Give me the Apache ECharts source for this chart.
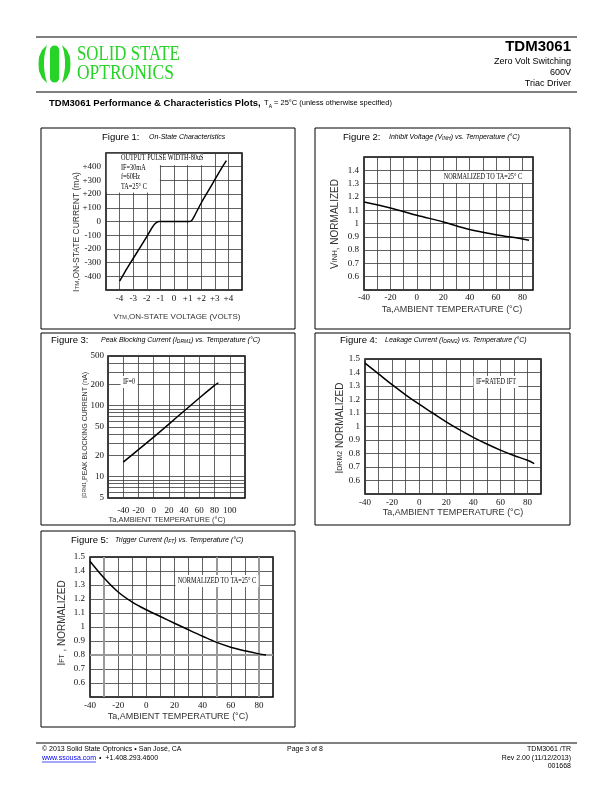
<!DOCTYPE html>
<html><head><meta charset="utf-8">
<script src="https://cdn.jsdelivr.net/npm/echarts@6/dist/echarts.min.js"></script>
<style>html,body{margin:0;padding:0;background:#fff}#c{width:612px;height:792px}</style>
</head><body><div id="c"></div>
<script>
// ---------- DATA ----------
// Figure 1: On-state characteristics
const fig1Volt = [-4, -3.5, -3, -2.5, -2, -1.7, -1.5, -1.3, -1.1, 0, 1.1, 1.3, 1.5, 2, 2.5, 3, 3.5, 3.85];
const fig1Curr = [-435, -350, -270, -190, -110, -60, -28, -8, 0, 0, 0, 8, 40, 135, 220, 305, 390, 445];
// Figure 2: Inhibit voltage vs temperature
const fig2Temp = [-40, -20, 0, 20, 40, 60, 80, 85];
const fig2Vinh = [1.162, 1.117, 1.062, 1.012, 0.955, 0.916, 0.884, 0.874];
// Figure 3: Peak blocking current vs temperature (nA)
const fig3Temp = [-40, -20, 0, 20, 40, 60, 80, 85];
const fig3Idrm = [16, 24, 36, 55, 84, 128, 193, 210];
const fig3GridVals = [5, 6, 7, 8, 9, 10, 20, 30, 40, 50, 60, 70, 80, 90, 100, 200, 300, 400, 500];
const fig3LabelVals = [5, 10, 20, 50, 100, 200, 500];
// Figure 4: Leakage current vs temperature
const fig4Temp = [-40, -30, -20, -10, 0, 10, 20, 30, 40, 50, 60, 70, 80, 85];
const fig4Idrm = [1.47, 1.39, 1.31, 1.235, 1.165, 1.10, 1.035, 0.975, 0.92, 0.87, 0.825, 0.785, 0.75, 0.725];
// Figure 5: Trigger current vs temperature
const fig5Temp = [-40, -30, -20, -10, 0, 10, 20, 30, 40, 50, 60, 70, 80, 85];
const fig5Ift = [1.47, 1.35, 1.25, 1.178, 1.123, 1.075, 1.027, 0.98, 0.934, 0.89, 0.856, 0.83, 0.808, 0.80];

// ---------- HELPERS ----------
const zip = (a, b) => a.map((v, i) => [v, b[i]]);
const SERIF = 'Liberation Serif';
const SANS = 'Liberation Sans';
const gridLine = { show: true, lineStyle: { color: '#3a3a3a', width: 0.8 } };
const tickLbl = (fmt, margin) => ({ fontFamily: SERIF, fontSize: 9, color: '#111', formatter: fmt, margin: margin, showMinLabel: true, showMaxLabel: true });
const normFmt = (hideTop) => v => {
  const r = Math.round(v * 10) / 10;
  if (r <= 0.5 + 1e-6) return '';
  if (hideTop && r >= 1.5 - 1e-6) return '';
  return r === 1 ? '1' : r.toFixed(1);
};
const tempFmt = v => (Math.abs(v % 20) < 1e-6 && v <= 80) ? String(v) : '';
const baseX = (i, min, max, interval, fmt, margin) => ({
  type: 'value', gridIndex: i, min, max, interval,
  axisLine: { show: false }, axisTick: { show: false },
  splitLine: gridLine, axisLabel: tickLbl(fmt, margin)
});
const lineSeries = (i, data, extra) => Object.assign({
  type: 'line', xAxisIndex: i, yAxisIndex: i, data, smooth: 0.35, showSymbol: false,
  lineStyle: { color: '#000', width: 1.5 }, silent: true, z: 5
}, extra || {});

const chart = echarts.init(document.getElementById('c'), null, { renderer: 'canvas' });

const txt = (x, y, text, font, opts) => Object.assign({
  type: 'text', x, y, silent: true,
  style: Object.assign({ text, font, fill: '#000', textAlign: 'left', textVerticalAlign: 'middle' }, (opts && opts.style) || {})
}, opts && opts.el ? opts.el : {});
const vtxt = (x, y, text, rich, fs) => ({
  type: 'text', x, y, rotation: Math.PI / 2, silent: true,
  style: { text, rich, fill: '#333', textAlign: 'center', textVerticalAlign: 'middle', fontFamily: SANS, fontSize: fs }
});
const box = (x, y, w, h) => ({ type: 'rect', shape: { x, y, width: w, height: h }, style: { fill: 'none', stroke: '#000', lineWidth: 1 }, silent: true });
const hline = (x1, x2, y, c, w) => ({ type: 'line', shape: { x1, y1: y, x2, y2: y }, style: { stroke: c || '#000', lineWidth: w || 1 }, silent: true });
const condEl = { z: 100, scaleX: 0.78, originX: 0, originY: 0 };
const noteBg = { backgroundColor: '#fff', padding: [2, 3] };

const green = '#27d327';
const graphics = [
  // header
  hline(36, 577, 37, '#000', 1.2),
  hline(36, 577, 92, '#000', 1.2),
  // logo symbol
  { type: 'polygon', silent: true, shape: { points: [[47,45],[42,50],[39,57],[38.5,64],[39,71],[42,78],[47,83],[45,75],[44,67],[44,60],[45,52]] }, style: { fill: green } },
  { type: 'rect', silent: true, shape: { x: 50, y: 45.5, width: 9.2, height: 37, r: 4.6 }, style: { fill: green } },
  { type: 'polygon', silent: true, shape: { points: [[62,45],[67,50],[70,57],[70.5,64],[70,71],[67,78],[62,83],[64,75],[65,67],[65,60],[64,52]] }, style: { fill: green } },
  { type: 'text', x: 77, y: 54, scaleX: 0.8, originX: 0, originY: 0, silent: true, style: { text: 'SOLID STATE', font: '21px ' + SERIF, fill: green, textVerticalAlign: 'middle' } },
  { type: 'text', x: 77, y: 73, scaleX: 0.83, originX: 0, originY: 0, silent: true, style: { text: 'OPTRONICS', font: '21px ' + SERIF, fill: green, textVerticalAlign: 'middle' } },
  txt(571, 47, 'TDM3061', 'bold 15px ' + SANS, { style: { textAlign: 'right' } }),
  txt(571, 62, 'Zero Volt Switching', '9px ' + SANS, { style: { textAlign: 'right' } }),
  txt(571, 73, '600V', '9px ' + SANS, { style: { textAlign: 'right' } }),
  txt(571, 84, 'Triac Driver', '9px ' + SANS, { style: { textAlign: 'right' } }),
  { type: 'text', x: 49, y: 103, silent: true, style: {
      text: '{b|TDM3061 Performance & Characteristics Plots,} {s|T}{ss|A}{s| = 25°C (unless otherwise specified)}',
      textVerticalAlign: 'middle',
      rich: { b: { font: 'bold 9.5px ' + SANS, fill: '#000' }, s: { font: '7.5px ' + SANS, fill: '#000' }, ss: { font: '5px ' + SANS, fill: '#000', verticalAlign: 'bottom' } } } },
  // footer
  hline(36, 577, 743, '#000', 1),
  txt(42, 749, '© 2013 Solid State Optronics • San José, CA', '7px ' + SANS),
  txt(42, 758, 'www.ssousa.com', '7px ' + SANS, { style: { fill: '#0000ee' } }),
  hline(42, 96, 762, '#0000ee', 0.7),
  txt(99, 758, '•  +1.408.293.4600', '7px ' + SANS),
  txt(287, 749, 'Page 3 of 8', '7px ' + SANS),
  txt(571, 749, 'TDM3061 /TR', '7px ' + SANS, { style: { textAlign: 'right' } }),
  txt(571, 758, 'Rev 2.00 (11/12/2013)', '7px ' + SANS, { style: { textAlign: 'right' } }),
  txt(571, 766, '001668', '7px ' + SANS, { style: { textAlign: 'right' } }),
  // panel boxes
  box(41, 128, 254, 201), box(315, 128, 255, 201),
  box(41, 333, 254, 192), box(315, 333, 255, 192),
  box(41, 531, 254, 196),
  // figure titles
  txt(102, 137, 'Figure 1:', '9.5px ' + SANS),
  txt(149, 137.5, 'On-State Characteristics', 'italic 7px ' + SANS),
  txt(343, 137, 'Figure 2:', '9.5px ' + SANS),
  { type: 'text', x: 389, y: 137.5, silent: true, style: { text: '{i|Inhibit Voltage (V}{s|INH}{i|) vs. Temperature (°C)}', textVerticalAlign: 'middle', rich: { i: { font: 'italic 7px ' + SANS, fill: '#000' }, s: { font: 'italic 5px ' + SANS, fill: '#000', verticalAlign: 'bottom' } } } },
  txt(51, 340, 'Figure 3:', '9.5px ' + SANS),
  { type: 'text', x: 101, y: 340.5, silent: true, style: { text: '{i|Peak Blocking Current (I}{s|DRM1}{i|) vs. Temperature (°C)}', textVerticalAlign: 'middle', rich: { i: { font: 'italic 7px ' + SANS, fill: '#000' }, s: { font: 'italic 5px ' + SANS, fill: '#000', verticalAlign: 'bottom' } } } },
  txt(340, 340, 'Figure 4:', '9.5px ' + SANS),
  { type: 'text', x: 385, y: 340.5, silent: true, style: { text: '{i|Leakage Current (I}{s|DRM2}{i|) vs. Temperature (°C)}', textVerticalAlign: 'middle', rich: { i: { font: 'italic 7px ' + SANS, fill: '#000' }, s: { font: 'italic 5px ' + SANS, fill: '#000', verticalAlign: 'bottom' } } } },
  txt(71, 540, 'Figure 5:', '9.5px ' + SANS),
  { type: 'text', x: 115, y: 540.5, silent: true, style: { text: '{i|Trigger Current (I}{s|FT}{i|) vs. Temperature (°C)}', textVerticalAlign: 'middle', rich: { i: { font: 'italic 7px ' + SANS, fill: '#000' }, s: { font: 'italic 5px ' + SANS, fill: '#000', verticalAlign: 'bottom' } } } },
  // axis titles
  vtxt(77, 232, '{a|I}{s|TM}{a|,ON-STATE CURRENT (mA)}', { a: { fontSize: 8.5, fill: '#333' }, s: { fontSize: 6, fill: '#333' } }, 8.5),
  { type: 'text', x: 177, y: 317, silent: true, style: { text: '{s|V}{ss|TM}{s|,ON-STATE VOLTAGE (VOLTS)}', textAlign: 'center', textVerticalAlign: 'middle', rich: { s: { fontSize: 8, fontFamily: SANS, fill: '#333' }, ss: { fontSize: 5.5, fontFamily: SANS, fill: '#333' } } } },
  vtxt(335, 224, '{a|V}{s|INH}{a|, NORMALIZED}', { a: { fontSize: 10, fill: '#333' }, s: { fontSize: 7, fill: '#333' } }, 10),
  txt(452, 310, 'Ta,AMBIENT TEMPERATURE (°C)', '9px ' + SANS, { style: { textAlign: 'center', fill: '#333' } }),
  vtxt(85, 435, '{a|I}{s|DRM1}{a|,PEAK BLOCKING CURRENT (nA)}', { a: { fontSize: 7, fill: '#333' }, s: { fontSize: 5, fill: '#333' } }, 7),
  txt(167, 520, 'Ta,AMBIENT TEMPERATURE (°C)', '7.5px ' + SANS, { style: { textAlign: 'center', fill: '#333' } }),
  vtxt(340, 428, '{a|I}{s|DRM2}{a| NORMALIZED}', { a: { fontSize: 10, fill: '#333' }, s: { fontSize: 7, fill: '#333' } }, 10),
  txt(453, 513, 'Ta,AMBIENT TEMPERATURE (°C)', '9px ' + SANS, { style: { textAlign: 'center', fill: '#333' } }),
  vtxt(62, 623, '{a|I}{s|FT}{a| , NORMALIZED}', { a: { fontSize: 10, fill: '#333' }, s: { fontSize: 7, fill: '#333' } }, 10),
  txt(178, 717, 'Ta,AMBIENT TEMPERATURE (°C)', '9px ' + SANS, { style: { textAlign: 'center', fill: '#333' } }),
  // in-plot annotations
  txt(121, 158, 'OUTPUT PULSE WIDTH-80uS', '8px ' + SERIF, { el: condEl }),
  txt(121, 167.5, 'IF=30mA', '8px ' + SERIF, { el: condEl }),
  txt(121, 177, 'f=60Hz', '8px ' + SERIF, { el: condEl }),
  txt(121, 186.5, 'TA=25° C', '8px ' + SERIF, { el: condEl }),
  txt(483, 177, 'NORMALIZED TO TA=25° C', '8px ' + SERIF, { style: Object.assign({ textAlign: 'center' }, noteBg), el: condEl }),
  txt(129, 382, 'IF=0', '8px ' + SERIF, { style: Object.assign({ textAlign: 'center' }, noteBg), el: condEl }),
  txt(496, 382, 'IF=RATED IFT', '8px ' + SERIF, { style: Object.assign({ textAlign: 'center' }, noteBg), el: condEl }),
  txt(217, 581, 'NORMALIZED TO TA=25° C', '8px ' + SERIF, { style: Object.assign({ textAlign: 'center' }, noteBg), el: condEl })
];

const gridStyle = { show: true, borderColor: '#000', borderWidth: 1.5, backgroundColor: 'transparent', containLabel: false };

const option = {
  animation: false,
  backgroundColor: '#fff',
  grid: [
    Object.assign({ left: 106, top: 153, width: 136, height: 137 }, gridStyle),
    Object.assign({ left: 364, top: 157, width: 169, height: 133 }, gridStyle),
    Object.assign({ left: 108, top: 356, width: 137, height: 142 }, gridStyle),
    Object.assign({ left: 365, top: 359, width: 176, height: 135 }, gridStyle),
    Object.assign({ left: 90, top: 557, width: 183, height: 140 }, gridStyle)
  ],
  xAxis: [
    baseX(0, -5, 5, 1, v => Math.abs(v) >= 5 ? '' : (v > 0 ? '+' + v : String(v)), 4),
    baseX(1, -40, 88, 10, tempFmt, 3),
    baseX(2, -60, 120, 20, v => (v <= -60 || v >= 120) ? '' : String(v), 8),
    baseX(3, -40, 90, 10, tempFmt, 4),
    baseX(4, -40, 90, 10, tempFmt, 4)
  ],
  yAxis: [
    { type: 'value', gridIndex: 0, min: -500, max: 500, interval: 100, axisLine: { show: false }, axisTick: { show: false }, splitLine: gridLine,
      axisLabel: tickLbl(v => Math.abs(v) >= 500 ? '' : (v > 0 ? '+' + v : String(v)), 5) },
    { type: 'value', gridIndex: 1, min: 0.5, max: 1.5, interval: 0.1, axisLine: { show: false }, axisTick: { show: false }, splitLine: gridLine,
      axisLabel: tickLbl(normFmt(true), 5) },
    { type: 'log', gridIndex: 2, logBase: 10, min: 5, max: 500, axisLine: { show: false }, axisTick: { show: false }, splitLine: { show: false },
      axisLabel: { show: false } },
    { type: 'value', gridIndex: 3, min: 0.5, max: 1.5, interval: 0.1, axisLine: { show: false }, axisTick: { show: false }, splitLine: gridLine,
      axisLabel: tickLbl(normFmt(false), 5) },
    { type: 'value', gridIndex: 4, min: 0.5, max: 1.5, interval: 0.1, axisLine: { show: false }, axisTick: { show: false }, splitLine: gridLine,
      axisLabel: tickLbl(normFmt(false), 5) }
  ],
  series: [
    lineSeries(0, zip(fig1Volt, fig1Curr), {
      smooth: 0.2,
      markArea: { silent: true, itemStyle: { color: '#fff', opacity: 1 },
        data: [
          [{ coord: [-4.94, 494] }, { coord: [-1.04, 212] }],
          [{ coord: [-1.04, 494] }, { coord: [2.15, 410] }]
        ] }
    }),
    lineSeries(1, zip(fig2Temp, fig2Vinh)),
    lineSeries(2, zip(fig3Temp, fig3Idrm), {
      smooth: 0.1,
      markLine: { silent: true, symbol: 'none', animation: false,
        lineStyle: { color: '#3a3a3a', width: 0.8, type: 'solid' },
        data: fig3GridVals.map(v => ({
          yAxis: v,
          label: { show: fig3LabelVals.indexOf(v) >= 0, position: 'start', distance: 4, formatter: String(v),
                   fontFamily: SERIF, fontSize: 9, color: '#111' }
        })) }
    }),
    lineSeries(3, zip(fig4Temp, fig4Idrm)),
    lineSeries(4, zip(fig5Temp, fig5Ift), {
      markLine: { silent: true, symbol: 'none', animation: false, label: { show: false },
        lineStyle: { color: '#999', width: 2, type: 'solid' },
        data: [{ xAxis: -30 }, { xAxis: 50 }, { xAxis: 80 }, { yAxis: 0.8 }] }
    })
  ],
  graphic: graphics
};
chart.setOption(option);
</script>
</body></html>
